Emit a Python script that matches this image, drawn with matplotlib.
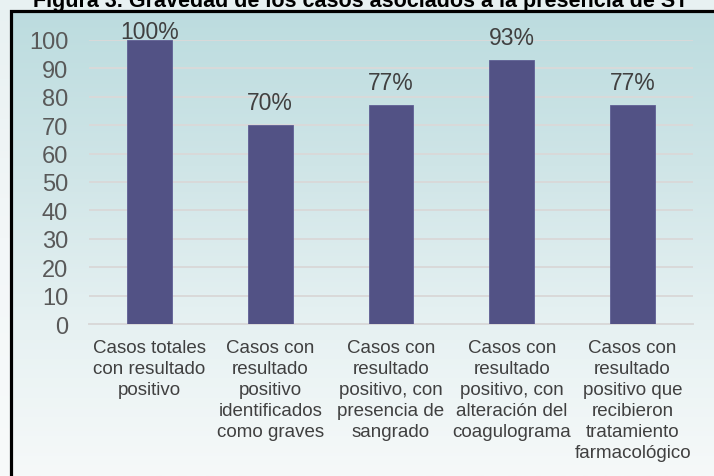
import numpy as np
import matplotlib.pyplot as plt
from matplotlib.colors import LinearSegmentedColormap

plt.rcParams['font.family'] = ['Liberation Sans', 'DejaVu Sans']

# Datos
categorias = [
    "Casos totales\ncon resultado\npositivo",
    "Casos con\nresultado\npositivo\nidentificados\ncomo graves",
    "Casos con\nresultado\npositivo, con\npresencia de\nsangrado",
    "Casos con\nresultado\npositivo, con\nalteración del\ncoagulograma",
    "Casos con\nresultado\npositivo que\nrecibieron\ntratamiento\nfarmacológico",
]
porcentajes = [100, 70, 77, 93, 77]
etiquetas = ["100%", "70%", "77%", "93%", "77%"]
titulo = "Figura 3. Gravedad de los casos asociados a la presencia de ST"

W, H = 714, 477
fig = plt.figure(figsize=(W / 100, H / 100), dpi=100)

# Fondo en degradado (exterior claro + recuadro interior)
bg = fig.add_axes([0, 0, 1, 1], zorder=-10)
bg.set_xlim(0, W)
bg.set_ylim(H, 0)
bg.axis('off')
grad = np.linspace(0, 1, 256).reshape(-1, 1)
cmap_out = LinearSegmentedColormap.from_list('out', ['#e8f1f2', '#f3f7f8', '#f8fafa'])
cmap_in = LinearSegmentedColormap.from_list('in', ['#bcdcdf', '#cfe5e7', '#e6f1f2', '#f6f9f9'])
bg.imshow(grad, cmap=cmap_out, extent=[0, W, H, 0], aspect='auto')
bg.imshow(grad, cmap=cmap_in, extent=[10.5, W, H, 11.5], aspect='auto')
bg.plot([10.5, 10.5, W + 5], [H + 5, 11.5, 11.5], color='black', lw=2.3, solid_joinstyle='miter')

bg.text(361, 7, titulo, ha='center', va='baseline', fontsize=15.5,
        fontweight='bold', color='black')

# Gráfico
ax = fig.add_axes([89 / W, 1 - 325 / H, (693 - 89) / W, (325 - 41) / H])
ax.patch.set_visible(False)
x = np.arange(len(categorias))
barras = ax.bar(x, porcentajes, width=0.37, color='#525285', edgecolor='#5f5f94',
                linewidth=0.6, zorder=3)

ax.set_xlim(-0.5, len(categorias) - 0.5)
ax.set_ylim(0, 100)
ax.set_yticks(range(0, 101, 10))
ax.set_xticks(x)
ax.set_xticklabels(categorias, fontsize=13.5, color='#404040', linespacing=1.31,
                   va='top')
ax.tick_params(axis='x', length=0, pad=11)
ax.tick_params(axis='y', length=0, pad=15, labelsize=17, labelcolor='#595959')
ax.grid(axis='y', color='#d9d9d9', linewidth=1.4, zorder=0)
for s in ['top', 'right', 'left']:
    ax.spines[s].set_visible(False)
ax.spines['bottom'].set_color('#d9d9d9')
ax.spines['bottom'].set_linewidth(1.4)

for b, v, t in zip(barras, porcentajes, etiquetas):
    off = -2 if v >= 100 else 8
    ax.annotate(t, (b.get_x() + b.get_width() / 2, v), xytext=(0, off),
                textcoords='offset points', ha='center', va='bottom',
                fontsize=16.5, color='#404040')

fig.savefig('out.png', dpi=100)
